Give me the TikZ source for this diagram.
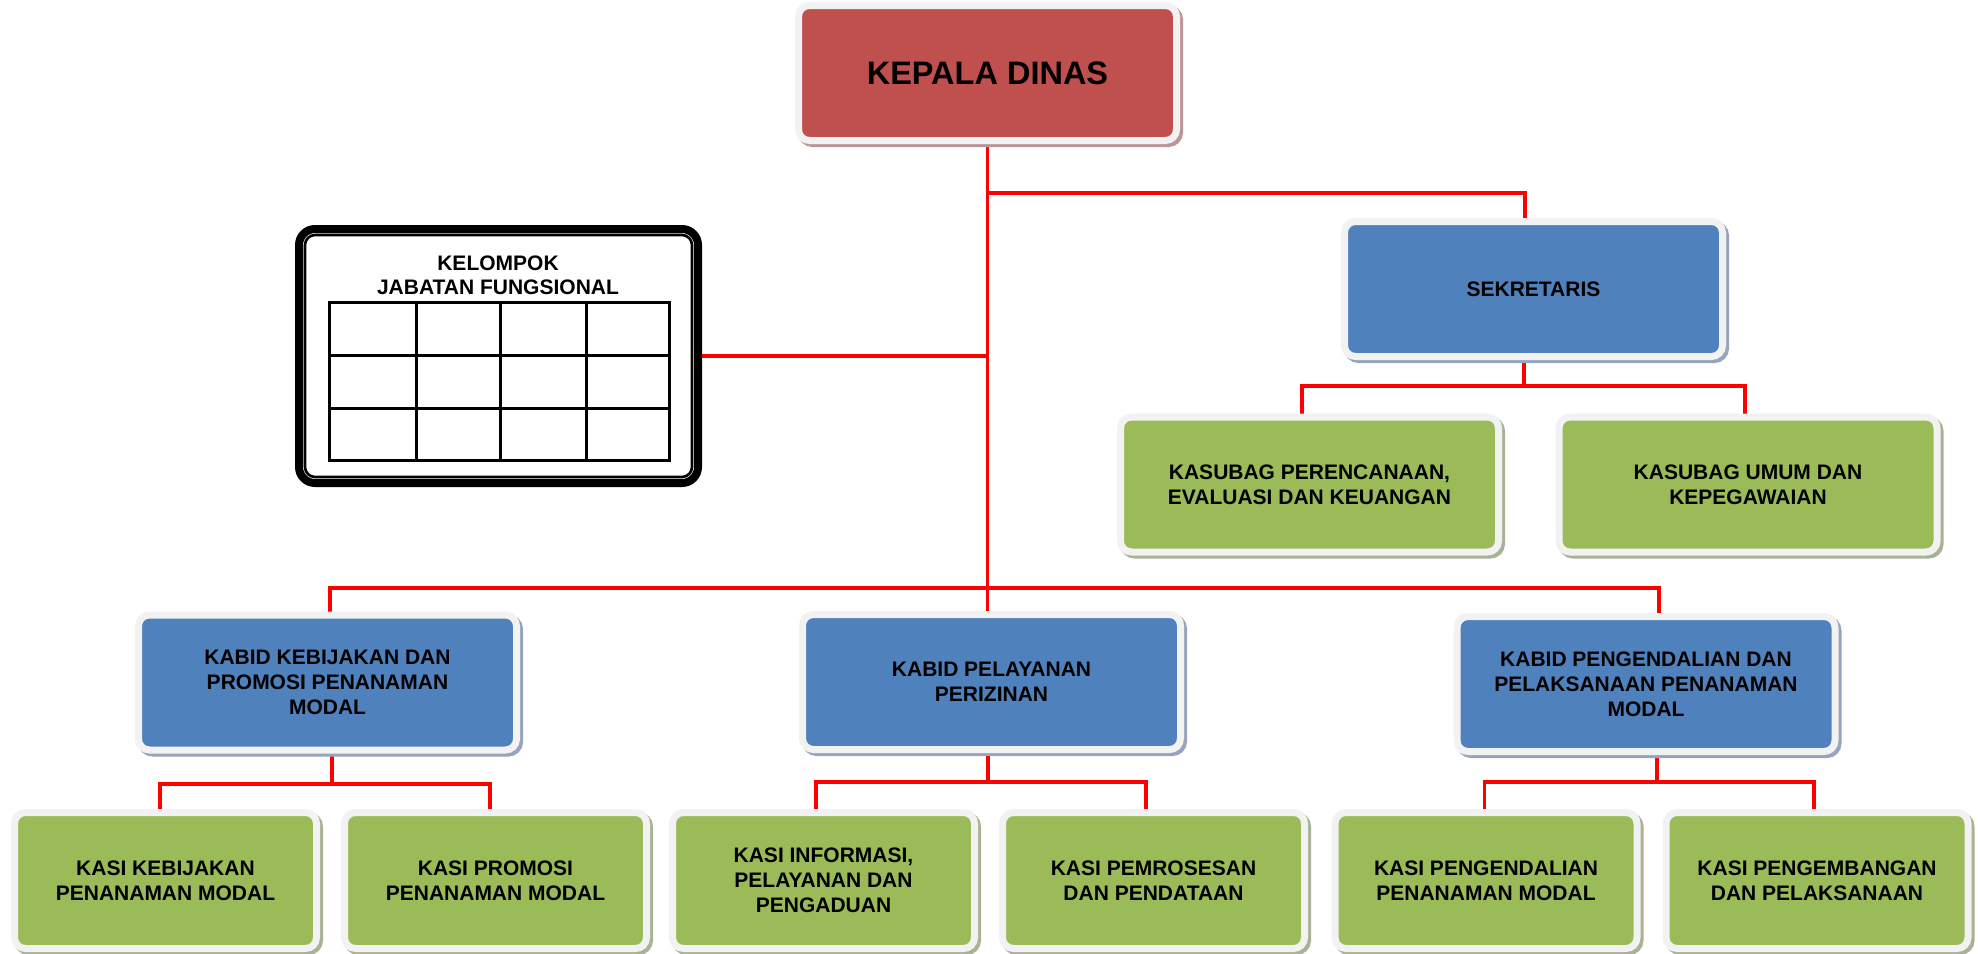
\documentclass[tikz,border=0pt]{standalone}
\usepackage{fontspec}
\setmainfont{Liberation Sans}
\usetikzlibrary{backgrounds,calc}
\definecolor{kred}{HTML}{C0504D}
\definecolor{kredsh}{RGB}{186,150,150}
\definecolor{kblue}{HTML}{4F81BD}
\definecolor{kbluesh}{RGB}{150,165,188}
\definecolor{kgreen}{HTML}{9BBB59}
\definecolor{kgreensh}{RGB}{168,178,148}
\definecolor{kframe}{HTML}{F2F2F2}
\definecolor{kline}{RGB}{255,0,0}
\tikzset{
  orgbox/.style 2 args={rectangle, rounded corners=11, draw=kframe, line width=7,
    fill=#1, minimum width=378, minimum height=135, inner sep=0, align=center,
    font=\fontsize{21}{25}\selectfont\bfseries, text=black,
    preaction={fill=#2, draw=#2, line width=7, transform canvas={shift={(3pt,-3pt)}}}},
  headbox/.style={orgbox={kred}{kredsh}, font=\fontsize{32.5}{38}\selectfont\bfseries},
  bluebox/.style={orgbox={kblue}{kbluesh}},
  greenbox/.style={orgbox={kgreen}{kgreensh}},
  kasibox/.style={orgbox={kgreen}{kgreensh}, minimum width=302, minimum height=136},
  conn/.style={draw=kline, line width=3.5},
  gridline/.style={draw=black, line width=3}
}
\begin{document}
\begin{tikzpicture}[x=1pt,y=-1pt]
\useasboundingbox (0,0) rectangle (1978,953);

% top
\node[headbox] (kepala) at (987.5,73) {KEPALA DINAS};
\node[bluebox] (sek) at (1533.5,289) {SEKRETARIS};
\node[greenbox] (kpe) at (1309.5,484.5) {KASUBAG PERENCANAAN,\\EVALUASI DAN KEUANGAN};
\node[greenbox] (kum) at (1748,484.5) {KASUBAG UMUM DAN\\KEPEGAWAIAN};

% kelompok jabatan fungsional
\node[rectangle, draw=black, line width=8, rounded corners=16, fill=white,
      minimum width=399, minimum height=254, inner sep=0] (kelompok) at (498.5,356) {};
\draw[line width=2.6, rounded corners=10]
  ($(kelompok.north west)+(10,10)$) rectangle ($(kelompok.south east)+(-10,-10)$);
\node[align=center, font=\fontsize{21}{24}\selectfont\bfseries] (kjf) at (498,275)
  {KELOMPOK\\JABATAN FUNGSIONAL};
\draw[gridline] (329,302) rectangle (669,460);
\draw[gridline] (416,302) -- (416,460);
\draw[gridline] (500,302) -- (500,460);
\draw[gridline] (586,302) -- (586,460);
\draw[gridline] (329,355) -- (669,355);
\draw[gridline] (329,408) -- (669,408);

% kabid
\node[bluebox] (kb1) at (327.5,682.5) {KABID KEBIJAKAN DAN\\PROMOSI PENANAMAN\\MODAL};
\node[bluebox] (kb2) at (991.5,682) {KABID PELAYANAN\\PERIZINAN};
\node[bluebox] (kb3) at (1646,684) {KABID PENGENDALIAN DAN\\PELAKSANAAN PENANAMAN\\MODAL};

% kasi
\node[kasibox] (ks1) at (165.5,880.5) {KASI KEBIJAKAN\\PENANAMAN MODAL};
\node[kasibox] (ks2) at (495.5,880.5) {KASI PROMOSI\\PENANAMAN MODAL};
\node[kasibox] (ks3) at (823.5,880.5) {KASI INFORMASI,\\PELAYANAN DAN\\PENGADUAN};
\node[kasibox] (ks4) at (1153.5,880.5) {KASI PEMROSESAN\\DAN PENDATAAN};
\node[kasibox] (ks5) at (1486,880.5) {KASI PENGENDALIAN\\PENANAMAN MODAL};
\node[kasibox] (ks6) at (1817,880.5) {KASI PENGEMBANGAN\\DAN PELAKSANAAN};

% bus coordinates
\coordinate (tsek) at (988,193);
\coordinate (tsekR) at (1525,193);
\coordinate (s0) at (1524,386);
\coordinate (s1) at (1302,386);
\coordinate (s2) at (1745,386);
\coordinate (hL) at (330,588);
\coordinate (hR) at (1659,588);
\coordinate (b10) at (332,784);
\coordinate (b11) at (160,784);
\coordinate (b12) at (490,784);
\coordinate (b20) at (988,782);
\coordinate (b21) at (816,782);
\coordinate (b22) at (1146,782);
\coordinate (b30) at (1657,782);
\coordinate (b31) at (1484.5,782);
\coordinate (b32) at (1814,782);

\begin{scope}[on background layer]
\draw[conn] (kepala.south) -- (kepala.south |- kb2.north);
\draw[conn] (tsek) -- (tsekR) -- (sek.north -| tsekR);
\draw[conn] (kelompok.east) -- (kelompok.east -| kepala.south);
\draw[conn] (sek.south -| s0) -- (s0);
\draw[conn] (kpe.north -| s1) -- (s1) -- (s2) -- (kum.north -| s2);
\draw[conn] (kb1.north -| hL) -- (hL) -- (hR) -- (kb3.north -| hR);
\draw[conn] (kb1.south -| b10) -- (b10);
\draw[conn] (ks1.north -| b11) -- (b11) -- (b12) -- (ks2.north -| b12);
\draw[conn] (kb2.south -| b20) -- (b20);
\draw[conn] (ks3.north -| b21) -- (b21) -- (b22) -- (ks4.north -| b22);
\draw[conn] (kb3.south -| b30) -- (b30);
\draw[conn] (ks5.north -| b31) -- (b31) -- (b32) -- (ks6.north -| b32);
\end{scope}
\end{tikzpicture}
\end{document}
